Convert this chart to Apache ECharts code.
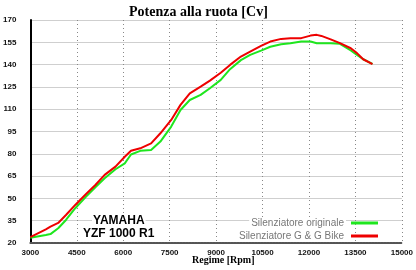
<!DOCTYPE html>
<html>
<head>
<meta charset="utf-8">
<script src="https://cdn.jsdelivr.net/npm/echarts@6/dist/echarts.min.js"></script>
<style>
  html, body { margin: 0; padding: 0; background: #fff; }
  #chart { width: 416px; height: 270px; }
</style>
</head>
<body>
<div id="chart"></div>
<script>
//dati
var rpm = [3000, 3500, 3650, 3900, 4150, 4450, 4800, 5100, 5400, 5750, 6050, 6250, 6550, 6900, 7200, 7550, 7850, 8150, 8500, 8800,
  9150, 9450, 9800, 10100, 10450, 10750, 11100, 11400, 11750, 12050, 12250, 12400, 12700, 13000, 13350, 13550, 13750, 14050];
var cvOriginale = [23.5, 25.4, 26, 29.9, 35.5, 43.4, 51.2, 57.5, 63.5, 69.6, 73.6, 79.5, 82, 82.6, 88.2, 98.3, 109.5, 116.2, 119.6, 124.1,
  129.7, 136.9, 143, 146.5, 149.4, 152, 153.7, 154.4, 155.5, 155.5, 154.4, 154.4, 154.4, 154, 149.5, 146.5, 143.6, 140.5];
var cvGG = [24, 29.2, 31, 33.5, 38.8, 45.6, 53, 59, 65.8, 71.4, 78, 82, 83.7, 87, 93.8, 102.8, 112.9, 120.7, 125.2, 129.2,
  134.5, 139.8, 145.4, 148.8, 152.6, 155.5, 157.3, 157.8, 157.8, 159.5, 160, 159.3, 157, 154.4, 151, 147.7, 143.6, 140.3];
var seriesNames = ['Silenziatore originale', 'Silenziatore G & G Bike'];

function pairs(xs, ys) {
  return xs.map(function (x, i) { return [x, ys[i]]; });
}

var axisFont = { color: '#111', fontSize: 8, fontWeight: 'bold', fontFamily: 'Liberation Sans' };

function renderChart() {
  var myChart = echarts.init(document.getElementById('chart'), null, { renderer: 'canvas' });
  var options = {
    backgroundColor: '#fff',
    animation: false,
    title: {
      text: 'Potenza alla ruota [Cv]',
      left: 124,
      top: 0,
      textStyle: { fontFamily: 'Liberation Serif', fontWeight: 'bold', fontSize: 14, color: '#000' }
    },
    grid: { left: 30, right: 14, top: 20, bottom: 27 },
    legend: {
      orient: 'vertical',
      right: 33,
      top: 212,
      align: 'right',
      itemWidth: 27,
      itemHeight: 3,
      itemGap: 1,
      icon: 'rect',
      data: seriesNames,
      textStyle: { color: '#777', fontSize: 10, lineHeight: 12, fontFamily: 'Liberation Sans', backgroundColor: '#fff', padding: [0, 2, 0, 2] }
    },
    xAxis: {
      type: 'value',
      min: 3000,
      max: 15000,
      interval: 1500,
      axisLine: { show: true, lineStyle: { color: '#555', width: 2, type: [2, 1] } },
      axisTick: { show: false },
      axisLabel: Object.assign({ margin: 6, formatter: function (v) { return String(v); } }, axisFont),
      splitLine: { show: true, lineStyle: { color: '#888', width: 1, type: [1, 3] } }
    },
    yAxis: {
      type: 'value',
      min: 20,
      max: 170,
      interval: 15,
      axisLine: { show: true, lineStyle: { color: '#000', width: 2 } },
      axisTick: { show: false },
      axisLabel: Object.assign({ margin: 14 }, axisFont),
      //linee orizzontali tratteggiate non vengono disegnate qui, uso grigio chiaro pieno
      splitLine: { show: true, lineStyle: { color: '#cfcfcf', width: 1, type: 'solid' } }
    },
    graphic: [
      { type: 'text', left: 92, top: 215, z: 10, style: { text: 'YAMAHA', fontSize: 12, fontWeight: 'bold', fontFamily: 'Liberation Sans', fill: '#000', backgroundColor: '#fff', padding: [0, 1] } },
      { type: 'text', left: 82, top: 228, z: 10, style: { text: 'YZF 1000 R1', fontSize: 12, fontWeight: 'bold', fontFamily: 'Liberation Sans', fill: '#000', backgroundColor: '#fff', padding: [0, 1] } },
      { type: 'text', left: 192, top: 255, style: { text: 'Regime [Rpm]', fontSize: 10, fontWeight: 'bold', fontFamily: 'Liberation Serif', fill: '#000' } }
    ],
    series: [
      {
        name: seriesNames[0],
        type: 'line',
        data: pairs(rpm, cvOriginale),
        showSymbol: false,
        itemStyle: { color: '#1ee61e' },
        lineStyle: { color: '#1ee61e', width: 2 }
      },
      {
        name: seriesNames[1],
        type: 'line',
        data: pairs(rpm, cvGG),
        showSymbol: false,
        itemStyle: { color: '#ee0000' },
        lineStyle: { color: '#ee0000', width: 2 }
      }
    ]
  };
  myChart.setOption(options, true);
}

renderChart();
</script>
</body>
</html>
